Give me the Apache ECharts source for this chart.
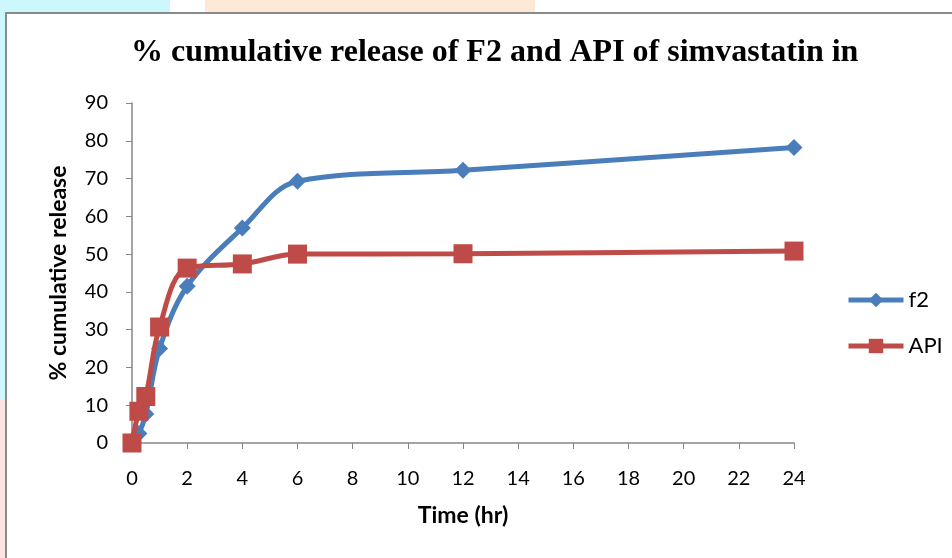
<!DOCTYPE html>
<html><head><meta charset="utf-8">
<script src="https://cdn.jsdelivr.net/npm/echarts@6/dist/echarts.min.js"></script>
<style>html,body{margin:0;padding:0;background:#fff}#c{width:952px;height:558px}</style>
</head><body><div id="c"></div>
<script>
const titleText = '% cumulative release of F2 and API of simvastatin in';
const xAxisName = 'Time (hr)';
const yAxisName = '% cumulative release';
const timeHr = [0, 0.25, 0.5, 1, 2, 4, 6, 12, 24];
const f2Values = [0, 2.5, 7.7, 25, 41.5, 56.9, 69.3, 72.2, 78.2];
const apiValues = [0, 8.4, 12.3, 30.7, 46.3, 47.4, 50, 50.1, 50.8];
const seriesNames = ['f2', 'API'];

const chart = echarts.init(document.getElementById('c'), null, {renderer: 'canvas'});
const font = 'Lato, "Open Sans", sans-serif';
const axisGray = '#868686';
chart.setOption({
  animation: false,
  backgroundColor: '#fff',
  graphic: [
    {type: 'rect', shape: {x: 0, y: 0, width: 170, height: 12}, style: {fill: '#cdf8fb'}, z: -10},
    {type: 'rect', shape: {x: 205, y: 0, width: 330, height: 12}, style: {fill: '#fde9d6'}, z: -10},
    {type: 'rect', shape: {x: 0, y: 0, width: 5, height: 400}, style: {fill: '#cdf8fb'}, z: -10},
    {type: 'rect', shape: {x: 0, y: 400, width: 5, height: 158}, style: {fill: '#fde4e4'}, z: -10},
    {type: 'rect', shape: {x: 6, y: 13, width: 980, height: 600}, style: {fill: 'none', stroke: '#8a8a8a', lineWidth: 2}, z: -5}
  ],
  title: {
    text: titleText,
    left: 126, top: 32,
    textStyle: {fontFamily: '"Liberation Serif", "Times New Roman", serif', fontWeight: 'bold', fontSize: 32, color: '#000'}
  },
  legend: {
    orient: 'vertical',
    left: 841, top: 284,
    itemWidth: 55, itemHeight: 18, itemGap: 24,
    lineStyle: {width: 5},
    textStyle: {fontFamily: font, fontSize: 22, color: '#000'},
    data: seriesNames
  },
  grid: {left: 132, right: 158, top: 103, bottom: 115},
  xAxis: {
    type: 'value', min: 0, max: 24, interval: 2,
    name: xAxisName, nameLocation: 'middle', nameGap: 61,
    nameTextStyle: {fontFamily: font, fontWeight: 'bold', fontSize: 23, color: '#000'},
    axisLine: {show: true, lineStyle: {color: axisGray, width: 1.5}},
    axisTick: {show: true, inside: false, length: 6, lineStyle: {color: axisGray}},
    axisLabel: {fontFamily: font, fontSize: 20, color: '#000', margin: 26},
    splitLine: {show: false}
  },
  yAxis: {
    type: 'value', min: 0, max: 90, interval: 10,
    name: yAxisName, nameLocation: 'middle', nameGap: 62,
    nameTextStyle: {fontFamily: font, fontWeight: 'bold', fontSize: 23, color: '#000'},
    axisLine: {show: true, lineStyle: {color: axisGray, width: 1.5}},
    axisTick: {show: true, inside: false, length: 6, lineStyle: {color: axisGray}},
    axisLabel: {fontFamily: font, fontSize: 20, color: '#000', margin: 24},
    splitLine: {show: false}
  },
  series: [
    {
      name: seriesNames[0], type: 'line', smooth: 0.35,
      data: timeHr.map((t, i) => [t, f2Values[i]]),
      symbol: 'diamond', symbolSize: 17, showAllSymbol: true,
      lineStyle: {color: '#4a7ebb', width: 5},
      itemStyle: {color: '#4a7ebb'}, z: 2
    },
    {
      name: seriesNames[1], type: 'line', smooth: 0.35,
      data: timeHr.map((t, i) => [t, apiValues[i]]),
      symbol: 'rect', symbolSize: 19, showAllSymbol: true,
      lineStyle: {color: '#be4b48', width: 5},
      itemStyle: {color: '#be4b48'}, z: 3
    }
  ]
});
</script></body></html>
